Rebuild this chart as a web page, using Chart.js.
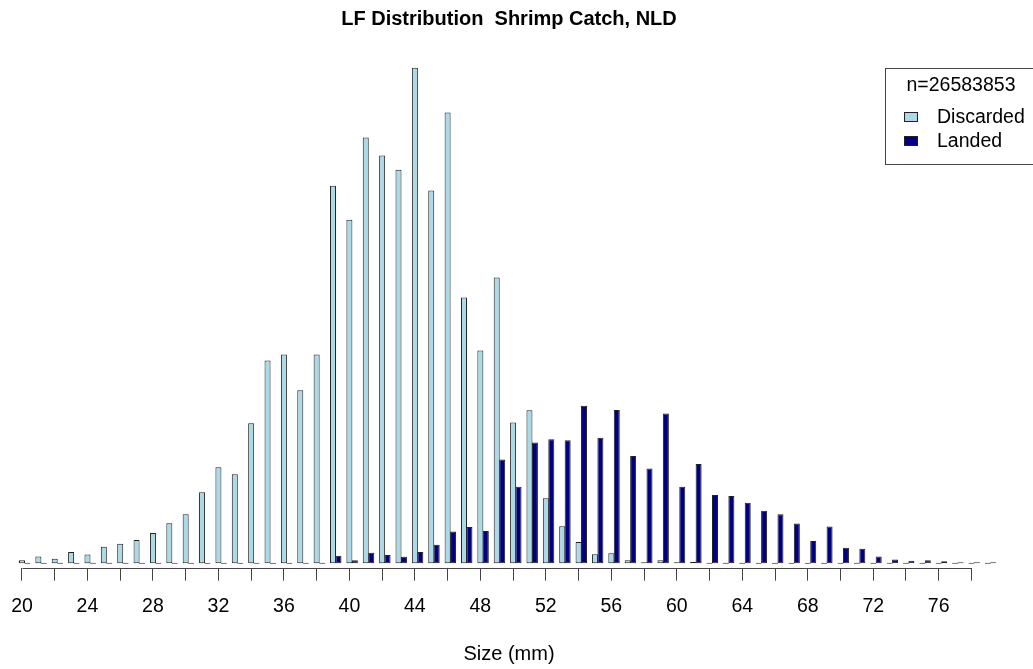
<!DOCTYPE html>
<html>
<head>
<meta charset="utf-8">
<script src="https://cdn.jsdelivr.net/npm/chart.js@4/dist/chart.umd.min.js"></script>
<style>
  html, body { margin: 0; padding: 0; background: #ffffff; }
  #wrap { width: 1033px; height: 669px; }
</style>
</head>
<body>
<div id="wrap"><canvas id="c" width="1033" height="669"></canvas></div>
<script>
// ---- Data (thousands of individuals, estimated) ----
const SIZES = [20,21,22,23,24,25,26,27,28,29,30,31,32,33,34,35,36,37,38,39,
               40,41,42,43,44,45,46,47,48,49,50,51,52,53,54,55,56,57,58,59,
               60,61,62,63,64,65,66,67,68,69,70,71,72,73,74,75,76,77,78,79];

const DISCARDED = [10,22,15,37,29,55,65,77,100,133,163,236,319,296,465,674,694,575,694,1255,
                   1142,1415,1355,1308,1647,1239,1498,883,707,950,468,508,216,123,70,30,33,10,3,10,
                   1,5,0,0,0,0,0,0,0,0,0,0,0,0,0,0,0,0,0,0];

const LANDED = [0,0,0,0,0,0,0,0,0,0,0,0,0,0,0,0,0,0,0,25,
                10,35,27,21,37,61,105,120,107,345,254,401,412,409,523,417,509,356,315,498,
                254,330,227,223,201,174,163,132,74,122,51,48,22,12,8,10,6,3,2,1];

const TICK_VALUES = [20,22,24,26,28,30,32,34,36,38,40,42,44,46,48,50,52,54,56,58,
                     60,62,64,66,68,70,72,74,76,78];
const TICK_LABELS = ['20','24','28','32','36','40','44','48','52','56','60','64','68','72','76'];

const SERIES_NAMES = ['Discarded', 'Landed'];
const LEGEND_TITLE = 'n=26583853';
const CHART_TITLE = 'LF Distribution  Shrimp Catch, NLD';
const X_TITLE = 'Size (mm)';

// side-by-side bars: each size class holds 3 units (discarded, landed, gap)
const BAR_SHIFT = 1 / 3;

const FONT = '"Liberation Sans", Arial, Helvetica, sans-serif';

const axisLinePlugin = {
  id: 'axisLine',
  afterDraw(chart) {
    const s = chart.scales.x;
    const ctx = chart.ctx;
    const y = Math.round(s.top) + 0.5;
    ctx.save();
    ctx.strokeStyle = '#444444';
    ctx.lineWidth = 1;
    ctx.beginPath();
    ctx.moveTo(Math.round(s.getPixelForValue(TICK_VALUES[0])) + 0.5, y);
    ctx.lineTo(Math.round(s.getPixelForValue(TICK_VALUES[TICK_VALUES.length - 1])) + 0.5, y);
    ctx.stroke();
    ctx.restore();
  }
};

const legendBoxPlugin = {
  id: 'legendBox',
  afterDraw(chart) {
    const ctx = chart.ctx;
    const L = 885.5, T = 68.5, R = 1038.5, B = 164.5;
    ctx.save();
    ctx.strokeStyle = '#444444';
    ctx.lineWidth = 1;
    ctx.strokeRect(L, T, R - L, B - T);
    ctx.font = '19.5px ' + FONT;
    ctx.fillStyle = '#000000';
    ctx.textBaseline = 'middle';
    ctx.textAlign = 'center';
    ctx.fillText(LEGEND_TITLE, 961, 86);
    chart.data.datasets.forEach((ds, i) => {
      const yc = 117 + i * 23.5;
      ctx.fillStyle = ds.backgroundColor;
      ctx.fillRect(904, Math.round(yc - 5), 14, 10);
      ctx.strokeStyle = '#222222';
      ctx.strokeRect(904.5, Math.round(yc - 5) + 0.5, 13, 9);
      ctx.fillStyle = '#000000';
      ctx.textAlign = 'left';
      ctx.fillText(ds.label, 937, yc + 1);
    });
    ctx.restore();
  }
};

new Chart(document.getElementById('c'), {
  type: 'bar',
  data: {
    datasets: [
      {
        label: SERIES_NAMES[0],
        data: SIZES.map((s, i) => ({ x: s, y: DISCARDED[i] })),
        backgroundColor: '#ADD8E6',
        borderColor: '#222222',
        borderWidth: 1,
        borderSkipped: false,
        minBarLength: 1,
        grouped: false,
        categoryPercentage: 1,
        barPercentage: 1.1
      },
      {
        label: SERIES_NAMES[1],
        data: SIZES.map((s, i) => ({ x: s + BAR_SHIFT, y: LANDED[i] })),
        backgroundColor: '#000080',
        borderColor: '#222222',
        borderWidth: 1,
        borderSkipped: false,
        minBarLength: 1,
        grouped: false,
        categoryPercentage: 1,
        barPercentage: 1.1
      }
    ]
  },
  options: {
    responsive: false,
    animation: false,
    devicePixelRatio: 1,
    layout: { padding: { left: 13.8, right: 28.8, top: 0, bottom: 3 } },
    plugins: {
      legend: { display: false },
      tooltip: { enabled: false },
      title: {
        display: true,
        text: CHART_TITLE,
        color: '#000000',
        font: { family: FONT, size: 20, weight: 'bold' },
        padding: { top: 7, bottom: 20.8 }
      }
    },
    scales: {
      x: {
        type: 'linear',
        bounds: 'data',
        min: 19.5,
        max: 80,
        offset: false,
        border: { display: false },
        grid: {
          offset: false,
          drawOnChartArea: false,
          drawTicks: true,
          tickLength: 12.4,
          tickColor: '#444444',
          tickWidth: 1
        },
        afterBuildTicks: (scale) => {
          scale.ticks = TICK_VALUES.map(v => ({ value: v }));
        },
        ticks: {
          autoSkip: false,
          maxRotation: 0,
          minRotation: 0,
          padding: 0,
          color: '#000000',
          font: { family: FONT, size: 19.5, lineHeight: 2.667 },
          callback: (v) => (TICK_LABELS.includes(String(v)) ? String(v) : '')
        },
        title: {
          display: true,
          text: X_TITLE,
          color: '#000000',
          font: { family: FONT, size: 20 },
          padding: { top: 9.3, bottom: 0 }
        }
      },
      y: {
        display: false,
        bounds: 'data',
        min: -17,
        max: 1700
      }
    }
  },
  plugins: [axisLinePlugin, legendBoxPlugin]
});
</script>
</body>
</html>
